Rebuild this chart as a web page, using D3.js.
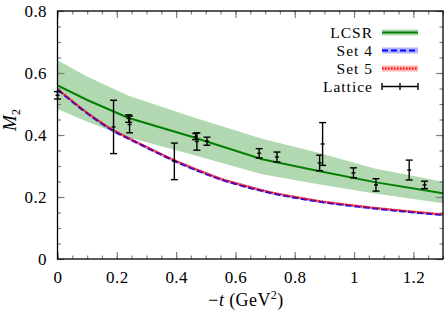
<!DOCTYPE html>
<html>
<head>
<meta charset="utf-8">
<script src="https://cdn.jsdelivr.net/npm/d3@7"></script>
<style>
  body { margin: 0; background: #fff; }
  svg text { font-family: "Liberation Serif", serif; }
  .tick text { font-size: 17px; fill: #000; letter-spacing: 0.4px; }
  .tick line { stroke: #808080; }
</style>
</head>
<body>
<div id="chart"></div>
<script>
const W = 446, H = 314;
const margin = {left: 57.5, right: 3, top: 11, bottom: 55};
const serif = '"Liberation Serif", serif';

// LCSR curve with its band
const lcsrT   = [0, 0.1, 0.24, 0.45, 0.69, 0.88, 1.07, 1.3];
const lcsrMid = [0.560, 0.513, 0.455, 0.395, 0.322, 0.284, 0.248, 0.212];
const lcsrHi  = [0.641, 0.589, 0.527, 0.460, 0.388, 0.343, 0.292, 0.249];
const lcsrLo  = [0.484, 0.443, 0.392, 0.338, 0.273, 0.241, 0.211, 0.180];

// Set 4 / Set 5 curves
const setT    = [0, 0.1, 0.18, 0.27, 0.4, 0.55, 0.72, 0.89, 1.06, 1.3];
const set4Mid = [0.547, 0.470, 0.418, 0.374, 0.314, 0.257, 0.213, 0.184, 0.164, 0.142];
const set4Hi  = [0.551, 0.475, 0.423, 0.379, 0.319, 0.262, 0.218, 0.188, 0.168, 0.146];
const set4Lo  = [0.542, 0.465, 0.413, 0.369, 0.309, 0.252, 0.208, 0.180, 0.160, 0.138];
const set5Mid = [0.549, 0.472, 0.420, 0.376, 0.316, 0.259, 0.215, 0.186, 0.166, 0.144];
const set5Hi  = [0.552, 0.475, 0.423, 0.379, 0.319, 0.262, 0.218, 0.189, 0.169, 0.147];
const set5Lo  = [0.546, 0.469, 0.417, 0.373, 0.313, 0.256, 0.212, 0.183, 0.163, 0.141];

// lattice points
const latT = [0.0, 0.189, 0.240, 0.243, 0.394, 0.466, 0.470, 0.504, 0.680, 0.740, 0.884, 0.894, 0.998, 1.074, 1.186, 1.238];
const latM = [0.528, 0.426, 0.453, 0.434, 0.315, 0.395, 0.379, 0.380, 0.341, 0.329, 0.310, 0.371, 0.278, 0.239, 0.287, 0.239];
const latE = [0.012, 0.086, 0.012, 0.027, 0.059, 0.010, 0.028, 0.013, 0.015, 0.016, 0.025, 0.069, 0.016, 0.020, 0.032, 0.012];

const xTicks = [0, 0.2, 0.4, 0.6, 0.8, 1, 1.2];
const yTicks = [0, 0.2, 0.4, 0.6, 0.8];
const xMinor = d3.range(0, 1.3001, 0.05);
const yMinor = d3.range(0, 0.8001, 0.05);
const legendNames = ['LCSR', 'Set 4', 'Set 5', 'Lattice'];

const green = '#007f00', blue = '#0000ff', red = '#ff0000';

const svg = d3.select('#chart').append('svg')
  .attr('width', W)
  .attr('height', H);

const x = d3.scaleLinear().domain([0, 1.3]).range([margin.left, W - margin.right]);
const y = d3.scaleLinear().domain([0, 0.8]).range([H - margin.bottom, margin.top]);

svg.append('clipPath').attr('id', 'clip')
  .append('rect')
  .attr('x', x(0)).attr('y', y(0.8))
  .attr('width', x(1.3) - x(0)).attr('height', y(0) - y(0.8));

const plot = svg.append('g').attr('clip-path', 'url(#clip)');

const band = (ts, lo, hi) => d3.area()
  .x((d, i) => x(ts[i]))
  .y0((d, i) => y(lo[i]))
  .y1((d, i) => y(hi[i]))(ts);
const line = (ts, v, curve) => d3.line()
  .x((d, i) => x(ts[i]))
  .y((d, i) => y(v[i]))
  .curve(curve)(ts);

// bands
plot.append('path').attr('d', band(lcsrT, lcsrLo, lcsrHi))
  .attr('fill', green).attr('fill-opacity', 0.3);
plot.append('path').attr('d', band(setT, set4Lo, set4Hi))
  .attr('fill', blue).attr('fill-opacity', 0.3);
plot.append('path').attr('d', band(setT, set5Lo, set5Hi))
  .attr('fill', red).attr('fill-opacity', 0.3);

// lines
plot.append('path').attr('d', line(lcsrT, lcsrMid, d3.curveLinear))
  .attr('fill', 'none').attr('stroke', green).attr('stroke-width', 2);
plot.append('path').attr('d', line(setT, set4Mid, d3.curveMonotoneX))
  .attr('fill', 'none').attr('stroke', blue).attr('stroke-width', 2)
  .attr('stroke-dasharray', '6,3');
plot.append('path').attr('d', line(setT, set5Mid, d3.curveMonotoneX))
  .attr('fill', 'none').attr('stroke', red).attr('stroke-width', 2)
  .attr('stroke-dasharray', '1.6,1.4');

// lattice error bars
const lat = svg.append('g').attr('stroke', '#000').attr('stroke-width', 1.4);
latT.forEach((t, i) => {
  const cx = x(t), top = y(latM[i] + latE[i]), bot = y(latM[i] - latE[i]), cy = y(latM[i]);
  lat.append('line').attr('x1', cx).attr('x2', cx).attr('y1', top).attr('y2', bot);
  lat.append('line').attr('x1', cx - 3.5).attr('x2', cx + 3.5).attr('y1', top).attr('y2', top);
  lat.append('line').attr('x1', cx - 3.5).attr('x2', cx + 3.5).attr('y1', bot).attr('y2', bot);
  lat.append('line').attr('x1', cx - 2).attr('x2', cx + 2).attr('y1', cy).attr('y2', cy);
});

// axes: ticks point inward on all four sides
const fmt = d3.format('~g');
svg.append('g').attr('transform', `translate(0,${y(0)})`)
  .call(d3.axisBottom(x).tickValues(xTicks).tickSize(-7).tickPadding(11.5).tickFormat(fmt));
svg.append('g').attr('transform', `translate(0,${y(0)})`)
  .call(d3.axisBottom(x).tickValues(xMinor).tickSize(-3.5).tickFormat(''));
svg.append('g').attr('transform', `translate(0,${y(0.8)})`)
  .call(d3.axisTop(x).tickValues(xTicks).tickSize(-7).tickFormat(''));
svg.append('g').attr('transform', `translate(0,${y(0.8)})`)
  .call(d3.axisTop(x).tickValues(xMinor).tickSize(-3.5).tickFormat(''));
svg.append('g').attr('transform', `translate(${x(0)},0)`)
  .call(d3.axisLeft(y).tickValues(yTicks).tickSize(-7).tickPadding(10.5).tickFormat(fmt));
svg.append('g').attr('transform', `translate(${x(0)},0)`)
  .call(d3.axisLeft(y).tickValues(yMinor).tickSize(-3.5).tickFormat(''));
svg.append('g').attr('transform', `translate(${x(1.3)},0)`)
  .call(d3.axisRight(y).tickValues(yTicks).tickSize(-7).tickFormat(''));
svg.append('g').attr('transform', `translate(${x(1.3)},0)`)
  .call(d3.axisRight(y).tickValues(yMinor).tickSize(-3.5).tickFormat(''));
svg.selectAll('.domain').remove();
svg.selectAll('.tick line').attr('stroke-width', 1.2);
svg.selectAll('.tick text').attr('font-family', serif);

// frame
svg.append('rect')
  .attr('x', x(0)).attr('y', y(0.8))
  .attr('width', x(1.3) - x(0)).attr('height', y(0) - y(0.8))
  .attr('fill', 'none').attr('stroke', '#000').attr('stroke-width', 1.3);

// axis labels
const xl = svg.append('text')
  .attr('x', 246).attr('y', 306)
  .attr('text-anchor', 'middle')
  .attr('font-family', serif)
  .attr('font-size', 18)
  .attr('letter-spacing', 0.4);
xl.append('tspan').text('\u2212');
xl.append('tspan').attr('font-style', 'italic').text('t');
xl.append('tspan').text(' (GeV');
xl.append('tspan').attr('font-size', 12).attr('dy', -7).text('2');
xl.append('tspan').attr('dy', 7).text(')');

const yl = svg.append('text')
  .attr('transform', 'translate(16,120) rotate(-90)')
  .attr('text-anchor', 'middle')
  .attr('font-family', serif)
  .attr('font-size', 19);
yl.append('tspan').attr('font-style', 'italic').text('M');
yl.append('tspan').attr('font-size', 12).attr('dy', 4).text('2');

// legend
const legend = svg.append('g').attr('class', 'legend');
const rowY = d => 32.5 + d * 18;
const lx0 = 382, lx1 = 418;
legendNames.forEach((name, i) => {
  legend.append('text')
    .attr('x', 373).attr('y', rowY(i) + 5.5)
    .attr('text-anchor', 'end')
    .attr('font-family', serif)
    .attr('font-size', 15.5)
    .attr('letter-spacing', 1)
    .text(name);
});
[[green, null], [blue, '6,3'], [red, '1.6,1.4']].forEach(([c, dash], i) => {
  legend.append('rect')
    .attr('x', lx0).attr('y', rowY(i) - 3)
    .attr('width', lx1 - lx0).attr('height', 6)
    .attr('fill', c).attr('fill-opacity', 0.3);
  legend.append('line')
    .attr('x1', lx0).attr('x2', lx1).attr('y1', rowY(i)).attr('y2', rowY(i))
    .attr('stroke', c).attr('stroke-width', 2)
    .attr('stroke-dasharray', dash);
});
const ly = rowY(3);
const lg = legend.append('g').attr('stroke', '#000').attr('stroke-width', 1.4);
lg.append('line').attr('x1', lx0).attr('x2', lx1).attr('y1', ly).attr('y2', ly);
[lx0, (lx0 + lx1) / 2, lx1].forEach(px => {
  lg.append('line').attr('x1', px).attr('x2', px).attr('y1', ly - 3.5).attr('y2', ly + 3.5);
});
</script>
</body>
</html>
